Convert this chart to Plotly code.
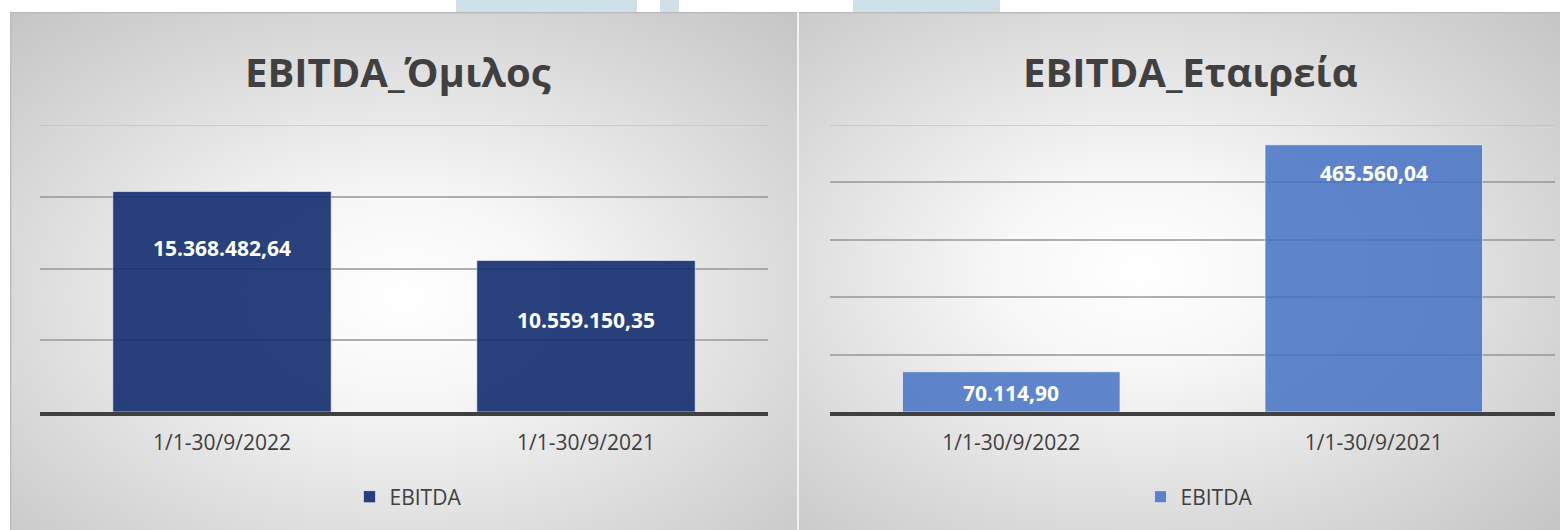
import base64
import plotly.graph_objects as go

# ---------------- data ----------------
categories = ["1/1-30/9/2022", "1/1-30/9/2021"]
group_values = [15368482.64, 10559150.35]
company_values = [70114.90, 465560.04]
group_labels = ["15.368.482,64", "10.559.150,35"]
company_labels = ["70.114,90", "465.560,04"]
series_name = "EBITDA"
titles = ["EBITDA_Όμιλος", "EBITDA_Εταιρεία"]
group_axis_max = 20000000
group_axis_step = 5000000
company_axis_max = 500000
company_axis_step = 100000

# ---------------- style ----------------
W, H = 1560, 530
FONT = "Open Sans"
TXT = "#404040"
left_bar = "rgba(18,46,111,0.9)"
right_bar = "rgba(68,114,196,0.85)"
label_shift_left = [-57, -60]
label_shift_right = [-21, -28]

svg = f"""<svg xmlns='http://www.w3.org/2000/svg' width='{W}' height='{H}' viewBox='0 0 {W} {H}' preserveAspectRatio='none'>
<defs>
<radialGradient id='g1' cx='0.5' cy='0.55' r='0.75'>
<stop offset='0' stop-color='#ffffff'/><stop offset='0.25' stop-color='#f7f7f7'/><stop offset='0.7' stop-color='#d8d8d8'/><stop offset='1' stop-color='#c4c4c4'/>
</radialGradient>
<radialGradient id='g2' cx='0.45' cy='0.5' r='0.75'>
<stop offset='0' stop-color='#ffffff'/><stop offset='0.25' stop-color='#f7f7f7'/><stop offset='0.7' stop-color='#d8d8d8'/><stop offset='1' stop-color='#c4c4c4'/>
</radialGradient>
</defs>
<rect x='0' y='0' width='{W}' height='{H}' fill='#ffffff'/>
<rect x='456' y='0' width='181' height='12' fill='#cfe0e9'/>
<rect x='660' y='0' width='19' height='12' fill='#cfe0e9'/>
<rect x='853' y='0' width='147' height='12' fill='#cfe0e9'/>
<rect x='10' y='12' width='787' height='518' fill='url(#g1)'/>
<rect x='799' y='12' width='761' height='518' fill='url(#g2)'/>
<rect x='10' y='12' width='1550' height='1.5' fill='#bcbcbc'/>
<rect x='10' y='12' width='1.5' height='518' fill='#bdbdbd'/>
<rect x='797' y='12' width='2' height='518' fill='#f2f2f2'/>
</svg>"""
bg_src = "data:image/svg+xml;base64," + base64.b64encode(svg.encode("utf-8")).decode("ascii")

fig = go.Figure()

fig.add_trace(go.Bar(
    x=categories, y=group_values, name=series_name,
    marker=dict(color=left_bar, line=dict(color="rgba(255,255,255,0.55)", width=1)),
    xaxis="x", yaxis="y", legend="legend", hoverinfo="x+y",
))
fig.add_trace(go.Bar(
    x=categories, y=company_values, name=series_name,
    marker=dict(color=right_bar, line=dict(color="rgba(255,255,255,0.6)", width=1)),
    xaxis="x2", yaxis="y2", legend="legend2", hoverinfo="x+y",
))

annotations = []
for c, v, t, s in zip(categories, group_values, group_labels, label_shift_left):
    annotations.append(dict(x=c, y=v, xref="x", yref="y", text=f"<b>{t}</b>", showarrow=False,
                            yshift=s, font=dict(family=FONT, size=21, color="#ffffff")))
for c, v, t, s in zip(categories, company_values, company_labels, label_shift_right):
    annotations.append(dict(x=c, y=v, xref="x2", yref="y2", text=f"<b>{t}</b>", showarrow=False,
                            yshift=s, font=dict(family=FONT, size=21, color="#ffffff")))
for t, cx in zip(titles, [398 / W, 1190 / W]):
    annotations.append(dict(x=cx, y=1 - 72 / H, xref="paper", yref="paper", text=f"<b>{t}</b>",
                            showarrow=False, xanchor="center", yanchor="middle",
                            font=dict(family=FONT, size=40, color=TXT)))

# lighter top gridline at each axis maximum
shapes = [
    dict(type="line", xref="x domain", yref="y", x0=0, x1=1, y0=group_axis_max, y1=group_axis_max,
         line=dict(color="rgba(190,190,190,0.8)", width=1.5), layer="below"),
    dict(type="line", xref="x2 domain", yref="y2", x0=0, x1=1, y0=company_axis_max, y1=company_axis_max,
         line=dict(color="rgba(190,190,190,0.8)", width=1.5), layer="below"),
]

ydom = [(H - 412) / H, (H - 125) / H]
xaxis_common = dict(type="category", showgrid=False, showline=True, linecolor="#404040", linewidth=4,
                    ticks="", tickfont=dict(family=FONT, size=21, color=TXT), ticklabelstandoff=9,
                    fixedrange=True)
yaxis_common = dict(showgrid=True, gridcolor="rgba(150,150,150,0.75)", gridwidth=1.5, zeroline=False,
                    showticklabels=False, ticks="", showline=False, fixedrange=True)

legend_common = dict(orientation="h", xanchor="center", yanchor="middle", y=(H - 497) / H,
                     bgcolor="rgba(0,0,0,0)", font=dict(family=FONT, size=21, color=TXT),
                     itemwidth=30)

fig.update_layout(
    width=W, height=H, autosize=False,
    margin=dict(l=0, r=0, t=0, b=0),
    paper_bgcolor="#ffffff", plot_bgcolor="rgba(0,0,0,0)",
    bargap=0.4, showlegend=True,
    xaxis=dict(domain=[40 / W, 768 / W], anchor="y", **xaxis_common),
    yaxis=dict(domain=ydom, anchor="x", range=[0, group_axis_max], dtick=group_axis_step, **yaxis_common),
    xaxis2=dict(domain=[830 / W, 1555 / W], anchor="y2", **xaxis_common),
    yaxis2=dict(domain=ydom, anchor="x2", range=[0, company_axis_max], dtick=company_axis_step, **yaxis_common),
    legend=dict(x=408 / W, **legend_common),
    legend2=dict(x=1199 / W, **legend_common),
    annotations=annotations,
    shapes=shapes,
    images=[dict(source=bg_src, xref="paper", yref="paper", x=0, y=1, sizex=1, sizey=1,
                 xanchor="left", yanchor="top", sizing="stretch", layer="below")],
)

fig.write_html("out.html", config={"displayModeBar": False},
               post_script="document.body.style.margin='0';document.body.style.padding='0';")
